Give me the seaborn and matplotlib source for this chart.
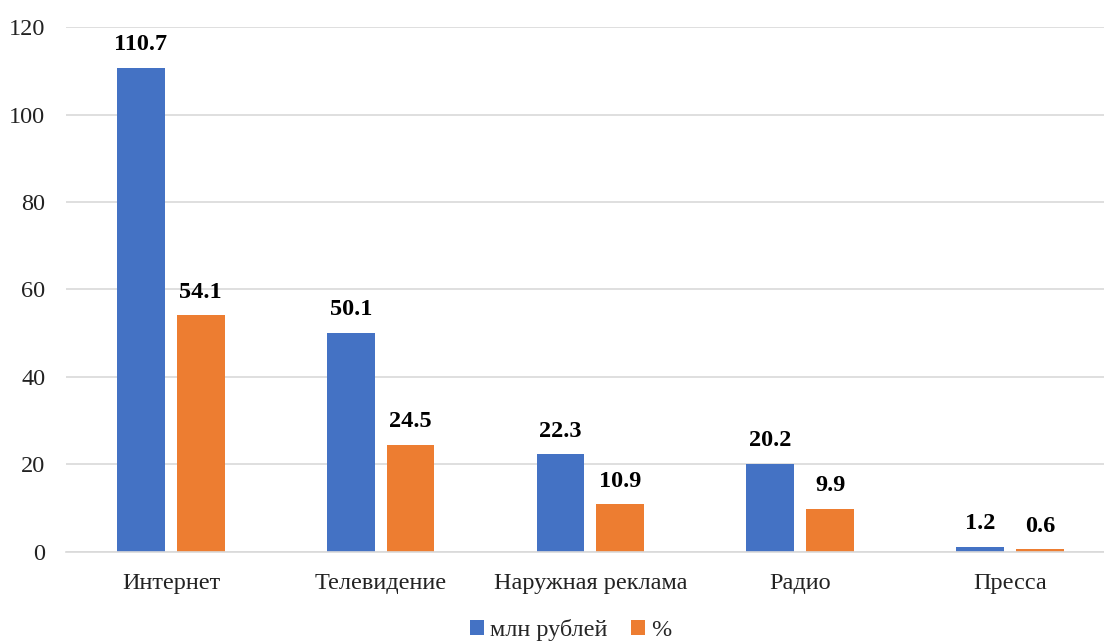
import pandas as pd
import matplotlib
matplotlib.use("Agg")
import matplotlib.pyplot as plt
import seaborn as sns

# Data
categories = ["Интернет", "Телевидение", "Наружная реклама", "Радио", "Пресса"]
rub_values = [110.7, 50.1, 22.3, 20.2, 1.2]
pct_values = [54.1, 24.5, 10.9, 9.9, 0.6]
series_names = ["млн рублей", "%"]
y_ticks = [0, 20, 40, 60, 80, 100, 120]

df = pd.DataFrame({
    "cat": categories * 2,
    "value": rub_values + pct_values,
    "series": [series_names[0]] * len(categories) + [series_names[1]] * len(categories),
})

sns.set_theme(style="white")
plt.rcParams["font.family"] = ["Liberation Serif", "DejaVu Serif"]

fig = plt.figure(figsize=(11.04, 6.44), dpi=100)
# the original chart runs slightly past the right edge of the image
ax = fig.add_axes([0.0598, 0.143, 0.950, 0.815])

palette = {series_names[0]: "#4472C4", series_names[1]: "#ED7D31"}
sns.barplot(data=df, x="cat", y="value", hue="series", order=categories,
            hue_order=series_names, palette=palette, width=0.57, gap=0.2,
            saturation=1, linewidth=0, ax=ax, legend=True)

for cont in ax.containers:
    ax.bar_label(cont, fmt="%.1f", padding=9, fontsize=17.5, fontweight="bold",
                 color="black")

ax.set_ylim(0, 120)
ax.set_yticks(y_ticks)
ax.set_xlim(-0.5, len(categories) - 0.5)
ax.yaxis.grid(True, color="#D9D9D9", linewidth=1.2)
ax.set_axisbelow(True)
for side in ["top", "right", "left"]:
    ax.spines[side].set_visible(False)
ax.spines["bottom"].set_color("#D9D9D9")
ax.spines["bottom"].set_linewidth(1.2)
ax.tick_params(axis="both", length=0, labelsize=17.5, colors="#222222")
ax.tick_params(axis="x", pad=15)
ax.tick_params(axis="y", pad=15)
ax.set_xlabel("")
ax.set_ylabel("")

handles, labels = ax.get_legend_handles_labels()
ax.legend(handles, labels, loc="center", bbox_to_anchor=(0.517, 0.022),
          bbox_transform=fig.transFigure, ncol=2, frameon=False, fontsize=17.5,
          handlelength=0.55, handleheight=0.55, handletextpad=0.25,
          columnspacing=1.0)

fig.savefig("out.png", dpi=100)
